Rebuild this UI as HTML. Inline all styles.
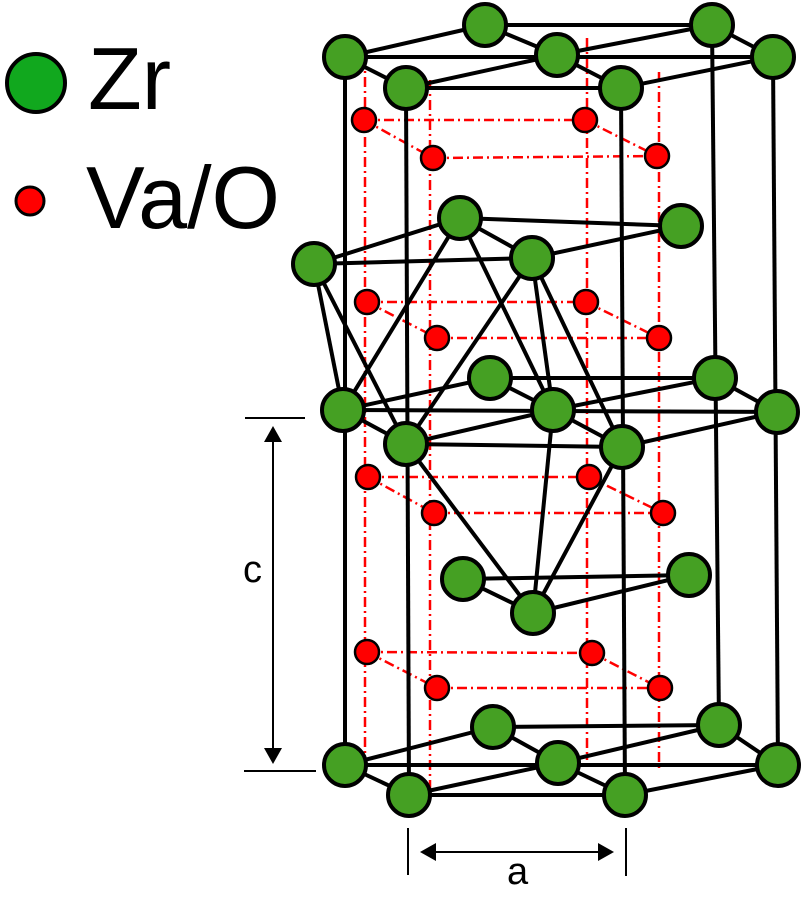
<!DOCTYPE html>
<html><head><meta charset="utf-8"><style>
html,body{margin:0;padding:0;background:#fff;}
svg{display:block;}
text{font-family:"Liberation Sans",sans-serif;}
</style></head><body>
<svg id="s" width="803" height="897" viewBox="0 0 803 897">
<g id="legend">
<circle cx="36" cy="83" r="29" fill="#11a81e" stroke="#000" stroke-width="4"/>
<text x="88" y="109" font-size="88">Zr</text>
<circle cx="30" cy="201" r="14" fill="#f00" stroke="#000" stroke-width="3"/>
<text x="86" y="228" font-size="88">Va/O</text>
</g>
<g id="red" stroke="#f00" stroke-width="2.5" stroke-dasharray="10,4,2,4" fill="none"></g>
<g id="black" stroke="#000" stroke-width="4" fill="none"></g>
<g id="atoms"></g>
<g id="dims" stroke="#000" stroke-width="2" fill="none">
<line x1="245" y1="418" x2="305" y2="418"/>
<line x1="244" y1="771" x2="316" y2="771"/>
<line x1="273" y1="428" x2="273" y2="762"/>
<path d="M264,442 L273,426 L282,442" fill="#000" stroke="none"/>
<path d="M264,748 L273,764 L282,748" fill="#000" stroke="none"/>
<line x1="408" y1="828" x2="408" y2="875"/>
<line x1="626" y1="828" x2="626" y2="876"/>
<line x1="422" y1="852" x2="612" y2="852"/>
<path d="M436,843 L420,852 L436,861" fill="#000" stroke="none"/>
<path d="M598,843 L614,852 L598,861" fill="#000" stroke="none"/>
</g>
<text x="243" y="582" font-size="38">c</text>
<text x="507" y="884" font-size="38">a</text>
</svg>
<script>
const zrAtoms=[[485,25],[712,25],[345,57],[557,55],[773,57],[406,88],[621,88],
[460,218],[681,226],[314,264],[532,258],
[490,378],[715,378],[343,410],[553,410],[777,412],[406,444],[622,447],
[463,579],[689,575],[533,613],
[493,727],[719,725],[345,765],[558,763],[778,765],[409,795],[625,795]];
const vaAtoms=[[364,120],[585,120],[433,158],[657,156],
[367,302],[586,302],[437,338],[659,338],
[368,477],[589,477],[434,513],[663,513],
[367,652],[592,653],[437,688],[660,688]];
const hexLayers=[[2,0,1,4,6,5,3],[13,11,12,15,17,16,14],[23,21,22,25,27,26,24]];
const extraBonds=[[9,7],[7,8],[9,10],[7,10],[10,8],
[7,13],[7,14],[10,16],[10,14],[10,17],[9,13],[9,16],
[18,20],[18,19],[20,19],[16,20],[14,20],[17,20]];
const verticals=[[2,23],[5,26],[6,27],[4,25],[1,22]];
const vaRows=[[0,1,2,3],[4,5,6,7],[8,9,10,11],[12,13,14,15]];
const vaVerticalX=[[365,57,770],[430,80,800],[587,38,760],[659,72,770]];
const NS='http://www.w3.org/2000/svg';
function mk(parent,tag,attrs){const e=document.createElementNS(NS,tag);for(const k in attrs)e.setAttribute(k,attrs[k]);parent.appendChild(e);return e;}
function ln(g,a,b){return mk(g,'line',{x1:a[0],y1:a[1],x2:b[0],y2:b[1]});}
const red=document.getElementById('red'),black=document.getElementById('black'),atoms=document.getElementById('atoms');
vaVerticalX.forEach(v=>{const e=ln(red,[v[0],v[1]],[v[0],v[2]]);

});
vaRows.forEach(r=>{const p=r.map(i=>vaAtoms[i]);
[[0,1],[0,2],[2,3],[1,3]].forEach(([a,b])=>{const e=ln(red,p[a],p[b]);

});});
verticals.forEach(([a,b])=>{const e=ln(black,zrAtoms[a],zrAtoms[b]);

});
hexLayers.forEach(h=>{const [l,bl,br,r,fr,fl,c]=h;
[[l,bl],[bl,br],[br,r],[r,fr],[fl,l],[fl,fr],[l,r],[bl,c],[c,fr],[fl,c],[c,br]].forEach(([a,b])=>{const e=ln(black,zrAtoms[a],zrAtoms[b]);

});});
extraBonds.forEach(([a,b])=>{const e=ln(black,zrAtoms[a],zrAtoms[b]);

});
vaAtoms.forEach(p=>{const e=mk(atoms,'circle',{cx:p[0],cy:p[1],r:12,fill:'#f00',stroke:'#000','stroke-width':2.5});

});
zrAtoms.forEach(p=>{const e=mk(atoms,'circle',{cx:p[0],cy:p[1],r:21,fill:'#45a023',stroke:'#000','stroke-width':4});

});
</script>
</body></html>
